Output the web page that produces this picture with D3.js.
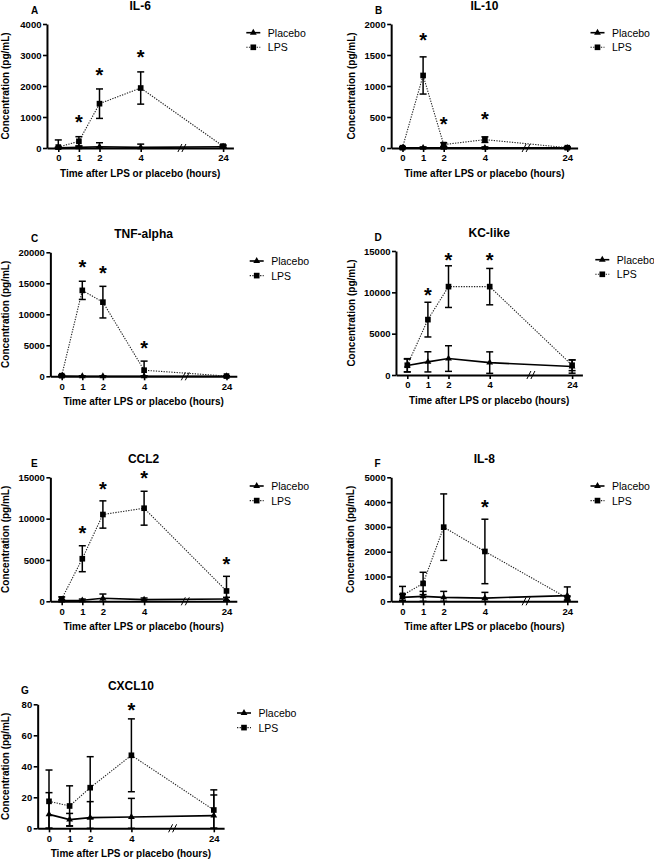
<!DOCTYPE html>
<html><head><meta charset="utf-8">
<script src="https://cdn.jsdelivr.net/npm/d3@7"></script>
<style>
body{margin:0;background:#fff}
svg{display:block}
text{font-family:"Liberation Sans",Arial,Helvetica,sans-serif;fill:#000}
</style>
</head><body>
<svg id="chart" width="654" height="860"></svg>
<script>
// ---------- DATA ----------
const times = [0, 1, 2, 4, 24];
const timeLabels = ["0", "1", "2", "4", "24"];
const seriesNames = ["Placebo", "LPS"];
const panelLetters = ["A", "B", "C", "D", "E", "F", "G"];
const panelTitles = ["IL-6", "IL-10", "TNF-alpha", "KC-like", "CCL2", "IL-8", "CXCL10"];
const xAxisTitle = "Time after LPS or placebo (hours)";
const yAxisTitle = "Concentration (pg/mL)";

const il6Ticks = [0, 1000, 2000, 3000, 4000];
const il6Placebo = [10, 20, 40, 20, 40];
const il6PlaceboErr = [20, 40, 130, 105, 30];
const il6Lps = [30, 215, 1430, 1935, 60];
const il6LpsErr = [230, 150, 475, 520, 40];
const il6Stars = [null, 995, 2486, 3070, null];

const il10Ticks = [0, 500, 1000, 1500, 2000];
const il10Placebo = [3, 3, 3, 3, 3];
const il10PlaceboErr = [15, 15, 15, 15, 15];
const il10Lps = [5, 1170, 55, 135, 5];
const il10LpsErr = [10, 300, 30, 45, 10];
const il10Stars = [null, 1822, 460, 540, null];

const tnfTicks = [0, 5000, 10000, 15000, 20000];
const tnfPlacebo = [30, 20, 20, 20, 20];
const tnfPlaceboErr = [60, 40, 40, 40, 40];
const tnfLps = [100, 13860, 11960, 980, 40];
const tnfLpsErr = [150, 1470, 2550, 1470, 60];
const tnfStars = [null, 18370, 17390, 5270, null];

const kcTicks = [0, 5000, 10000, 15000];
const kcPlacebo = [1150, 1590, 1990, 1500, 1020];
const kcPlaceboErr = [780, 1220, 1550, 1300, 800];
const kcLps = [1180, 6700, 10690, 10690, 1180];
const kcLpsErr = [800, 2100, 2520, 2200, 650];
const kcStars = [null, 10240, 14510, 14510, null];

const ccl2Ticks = [0, 5000, 10000, 15000];
const ccl2Placebo = [100, 120, 360, 200, 280];
const ccl2PlaceboErr = [100, 150, 520, 200, 200];
const ccl2Lps = [280, 5150, 10500, 11260, 1250];
const ccl2LpsErr = [250, 1570, 1650, 2050, 1770];
const ccl2Stars = [null, 8850, 14080, 15400, 5030];

const il8Ticks = [0, 1000, 2000, 3000, 4000, 5000];
const il8Placebo = [160, 200, 160, 130, 230];
const il8PlaceboErr = [120, 200, 240, 230, 350];
const il8Lps = [240, 720, 2990, 2010, 130];
const il8LpsErr = [360, 450, 1340, 1300, 80];
const il8Stars = [null, null, null, 3995, null];

const cxcl10Ticks = [0, 20, 40, 60, 80];
const cxcl10Placebo = [9.0, 5.6, 6.9, 7.3, 8.2];
const cxcl10PlaceboErr = [14, 4, 10.3, 12, 13.3];
const cxcl10Lps = [17.4, 14.4, 26.2, 47.1, 11.8];
const cxcl10LpsErr = [20.2, 13, 20, 23.5, 13];
const cxcl10Stars = [null, null, null, 79.1, null];

// ---------- LAYOUT ----------
const panels = [
  {ticks: il6Ticks, placebo: il6Placebo, placeboErr: il6PlaceboErr, lps: il6Lps, lpsErr: il6LpsErr, stars: il6Stars},
  {ticks: il10Ticks, placebo: il10Placebo, placeboErr: il10PlaceboErr, lps: il10Lps, lpsErr: il10LpsErr, stars: il10Stars},
  {ticks: tnfTicks, placebo: tnfPlacebo, placeboErr: tnfPlaceboErr, lps: tnfLps, lpsErr: tnfLpsErr, stars: tnfStars},
  {ticks: kcTicks, placebo: kcPlacebo, placeboErr: kcPlaceboErr, lps: kcLps, lpsErr: kcLpsErr, stars: kcStars},
  {ticks: ccl2Ticks, placebo: ccl2Placebo, placeboErr: ccl2PlaceboErr, lps: ccl2Lps, lpsErr: ccl2LpsErr, stars: ccl2Stars},
  {ticks: il8Ticks, placebo: il8Placebo, placeboErr: il8PlaceboErr, lps: il8Lps, lpsErr: il8LpsErr, stars: il8Stars},
  {ticks: cxcl10Ticks, placebo: cxcl10Placebo, placeboErr: cxcl10PlaceboErr, lps: cxcl10Lps, lpsErr: cxcl10LpsErr, stars: cxcl10Stars}
];
const layout = [
  {x0: 58.3, top: 24, letterX: 31, ylabX: 5.5},
  {x0: 402.5, top: 24, letterX: 375, ylabX: 351},
  {x0: 61.7, top: 252.3, letterX: 31, ylabX: 5.5},
  {x0: 407.3, top: 251, letterX: 374.5, ylabX: 351},
  {x0: 61.7, top: 477.3, letterX: 31, ylabX: 5.5},
  {x0: 402.5, top: 477.3, letterX: 374.5, ylabX: 350},
  {x0: 49, top: 704.3, letterX: 21, ylabX: 5.5}
];
const HOUR = 20.6, PH = 124;

const svg = d3.select("#chart");

panels.forEach((p, i) => {
  const L = layout[i];
  const g = svg.append("g");
  const x = d3.scaleLinear()
    .domain([-0.55, 4, 24, 26.5])
    .range([L.x0 - 0.55 * HOUR, L.x0 + 4 * HOUR, L.x0 + 8 * HOUR, L.x0 + 8.5 * HOUR]);
  const y = d3.scaleLinear().domain([0, d3.max(p.ticks)]).range([L.top + PH, L.top]);
  const xr = x.range();
  const axisX = xr[0], bottom = L.top + PH;
  const midX = (xr[0] + xr[xr.length - 1]) / 2;

  // y axis
  const ya = g.append("g").attr("transform", `translate(${axisX},0)`)
    .call(d3.axisLeft(y).tickValues(p.ticks).tickSize(4).tickSizeOuter(0).tickPadding(1.5).tickFormat(d3.format("d")));
  // x axis
  const xa = g.append("g").attr("transform", `translate(0,${bottom})`)
    .call(d3.axisBottom(x).tickValues(times).tickFormat((d, k) => timeLabels[k]).tickSize(4).tickSizeOuter(0).tickPadding(2.5));
  [ya, xa].forEach(a => {
    a.select(".domain").attr("stroke", "#000").attr("stroke-width", 2);
    a.selectAll(".tick line").attr("stroke", "#000").attr("stroke-width", 1.6);
    a.selectAll(".tick text").attr("font-size", 9.5).attr("font-weight", "bold")
      .attr("font-family", '"Liberation Sans",Arial,sans-serif').attr("fill", "#000");
  });

  // axis break
  const bx = x(14);
  [-2, 2].forEach(o => {
    g.append("line").attr("x1", bx + o - 2).attr("x2", bx + o + 2)
      .attr("y1", bottom + 4).attr("y2", bottom - 4)
      .attr("stroke", "#000").attr("stroke-width", 1);
  });

  // lines
  const lineGen = d3.line().x((d, k) => x(times[k])).y(d => y(d));
  g.append("path").datum(p.placebo).attr("d", lineGen)
    .attr("fill", "none").attr("stroke", "#000").attr("stroke-width", 1.6);
  g.append("path").datum(p.lps).attr("d", lineGen)
    .attr("fill", "none").attr("stroke", "#222").attr("stroke-width", 1.1).attr("stroke-dasharray", "1.3,1.3");

  // error bars
  const drawErr = (vals, errs) => {
    vals.forEach((v, k) => {
      const cx = x(times[k]);
      const yt = y(v + errs[k]), yb = y(Math.max(v - errs[k], 0));
      g.append("line").attr("x1", cx).attr("x2", cx).attr("y1", yt).attr("y2", yb)
        .attr("stroke", "#000").attr("stroke-width", 1.5);
      [yt, yb].forEach(yy => g.append("line").attr("x1", cx - 3.5).attr("x2", cx + 3.5)
        .attr("y1", yy).attr("y2", yy).attr("stroke", "#000").attr("stroke-width", 1.5));
    });
  };
  drawErr(p.placebo, p.placeboErr);
  drawErr(p.lps, p.lpsErr);

  // markers
  const tri = d3.symbol().type(d3.symbolTriangle).size(20);
  const sq = d3.symbol().type(d3.symbolSquare).size(32);
  p.placebo.forEach((v, k) => g.append("path").attr("d", tri)
    .attr("transform", `translate(${x(times[k])},${y(v)})`).attr("fill", "#000"));
  p.lps.forEach((v, k) => g.append("path").attr("d", sq)
    .attr("transform", `translate(${x(times[k])},${y(v)})`).attr("fill", "#000"));

  // significance stars
  p.stars.forEach((s, k) => {
    if (s === null) return;
    g.append("text").attr("x", x(times[k])).attr("y", y(s) + 11.5)
      .attr("text-anchor", "middle").attr("font-size", 20).attr("font-weight", "bold").text("*");
  });

  // title, letter
  g.append("text").attr("x", midX).attr("y", L.top - 14).attr("text-anchor", "middle")
    .attr("font-size", 12).attr("font-weight", "bold").text(panelTitles[i]);
  g.append("text").attr("x", L.letterX).attr("y", L.top - 10)
    .attr("font-size", 10).attr("font-weight", "bold").text(panelLetters[i]);

  // axis titles
  g.append("text").attr("x", midX).attr("y", bottom + 29).attr("text-anchor", "middle")
    .attr("font-size", 10).attr("font-weight", "bold").text(xAxisTitle);
  g.append("text").attr("transform", `translate(${L.ylabX},${L.top + PH / 2}) rotate(-90)`)
    .attr("text-anchor", "middle").attr("dominant-baseline", "central")
    .attr("font-size", 10).attr("font-weight", "bold").text(yAxisTitle);

  // legend
  const lx = L.x0 + 188;
  seriesNames.forEach((name, k) => {
    const ly = L.top + 8.7 + k * 14.6;
    g.append("line").attr("x1", lx).attr("x2", lx + 14).attr("y1", ly).attr("y2", ly)
      .attr("stroke", k === 0 ? "#000" : "#222").attr("stroke-width", k === 0 ? 1.6 : 1.1)
      .attr("stroke-dasharray", k === 0 ? null : "1.3,1.3");
    g.append("path").attr("d", k === 0 ? tri : sq)
      .attr("transform", `translate(${lx + 7},${ly})`).attr("fill", "#000");
    g.append("text").attr("x", lx + 21.5).attr("y", ly).attr("dominant-baseline", "central")
      .attr("font-size", 10.5).text(name);
  });
});
</script>
</body></html>
